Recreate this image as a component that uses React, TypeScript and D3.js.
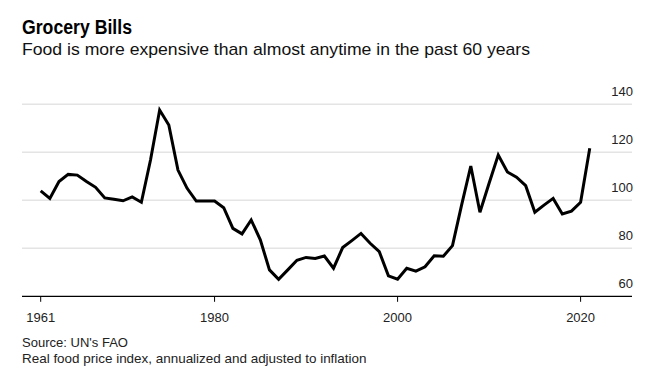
import React from "react";
import * as d3 from "d3";

const years: number[] = [
  1961, 1962, 1963, 1964, 1965, 1966, 1967, 1968, 1969, 1970,
  1971, 1972, 1973, 1974, 1975, 1976, 1977, 1978, 1979, 1980,
  1981, 1982, 1983, 1984, 1985, 1986, 1987, 1988, 1989, 1990,
  1991, 1992, 1993, 1994, 1995, 1996, 1997, 1998, 1999, 2000,
  2001, 2002, 2003, 2004, 2005, 2006, 2007, 2008, 2009, 2010,
  2011, 2012, 2013, 2014, 2015, 2016, 2017, 2018, 2019, 2020,
  2021,
];

const priceIndex: number[] = [
  103.9, 100.8, 107.8, 110.8, 110.5, 107.8, 105.4, 101.0, 100.4, 99.8,
  101.4, 99.2, 116.8, 137.6, 131.4, 112.6, 105.0, 99.7, 99.7, 99.7,
  96.9, 88.3, 86.0, 91.8, 83.5, 71.0, 67.1, 71.0, 75.0, 76.2,
  75.8, 76.8, 71.7, 80.3, 83.2, 86.2, 82.1, 78.6, 68.5, 67.1,
  71.7, 70.5, 72.3, 76.9, 76.7, 81.1, 98.1, 114.3, 95.0, 107.1,
  118.9, 111.8, 109.6, 106.1, 95.0, 98.0, 100.8, 94.3, 95.5, 99.2,
  121.7,
];

const yTicks: number[] = [60, 80, 100, 120, 140];
const xTicks: number[] = [1961, 1980, 2000, 2020];

const title = "Grocery Bills";
const subtitle = "Food is more expensive than almost anytime in the past 60 years";
const sourceLine = "Source: UN's FAO";
const noteLine = "Real food price index, annualized and adjusted to inflation";

const W = 663;
const H = 387;
const plotLeft = 22;
const plotRight = 632;
const FONT = "'Liberation Sans', Arial, Helvetica, sans-serif";

export default function App() {
  const x = d3.scaleLinear().domain([1961, 2020]).range([40.7, 580.6]);
  const y = d3.scaleLinear().domain([60, 140]).range([296.3, 104.3]);

  const data = years.map((yr, i) => ({ yr, v: priceIndex[i] }));
  const line = d3
    .line<{ yr: number; v: number }>()
    .x((d) => x(d.yr))
    .y((d) => y(d.v));

  return (
    <svg
      width={W}
      height={H}
      style={{ position: "absolute", left: 0, top: 0, background: "#fff" }}
      fontFamily={FONT}
    >
      <rect x={0} y={0} width={W} height={H} fill="#fff" />
      <text x={22} y={34.3} fontSize={20} fontWeight="bold" fill="#000" textLength={110} lengthAdjust="spacingAndGlyphs">
        {title}
      </text>
      <text x={22} y={55} fontSize={17} fill="#111" textLength={508} lengthAdjust="spacingAndGlyphs">
        {subtitle}
      </text>

      {yTicks
        .filter((t) => t !== 60)
        .map((t) => (
          <line
            key={"g" + t}
            x1={plotLeft}
            x2={plotRight}
            y1={y(t)}
            y2={y(t)}
            stroke="#e4e4e4"
            strokeWidth={1.5}
          />
        ))}
      {yTicks.map((t) => (
        <text
          key={"yl" + t}
          x={plotRight + 1}
          y={y(t) - 8.5}
          fontSize={13}
          textAnchor="end"
          fill="#222"
        >
          {t}
        </text>
      ))}

      <path
        d={line(data) || ""}
        fill="none"
        stroke="#000"
        strokeWidth={3}
        strokeLinejoin="miter"
        strokeMiterlimit={4}
      />

      <line x1={plotLeft} x2={plotRight} y1={y(60)} y2={y(60)} stroke="#000" strokeWidth={1.2} />
      {xTicks.map((t) => (
        <g key={"xt" + t}>
          <line x1={x(t)} x2={x(t)} y1={y(60)} y2={y(60) + 5.5} stroke="#000" strokeWidth={1} />
          <text x={x(t)} y={321.7} fontSize={13} textAnchor="middle" fill="#222">
            {t}
          </text>
        </g>
      ))}

      <text x={22} y={347.3} fontSize={13} fill="#222" textLength={106} lengthAdjust="spacingAndGlyphs">
        {sourceLine}
      </text>
      <text x={22} y={362.7} fontSize={13} fill="#222" textLength={344.5} lengthAdjust="spacingAndGlyphs">
        {noteLine}
      </text>
    </svg>
  );
}
